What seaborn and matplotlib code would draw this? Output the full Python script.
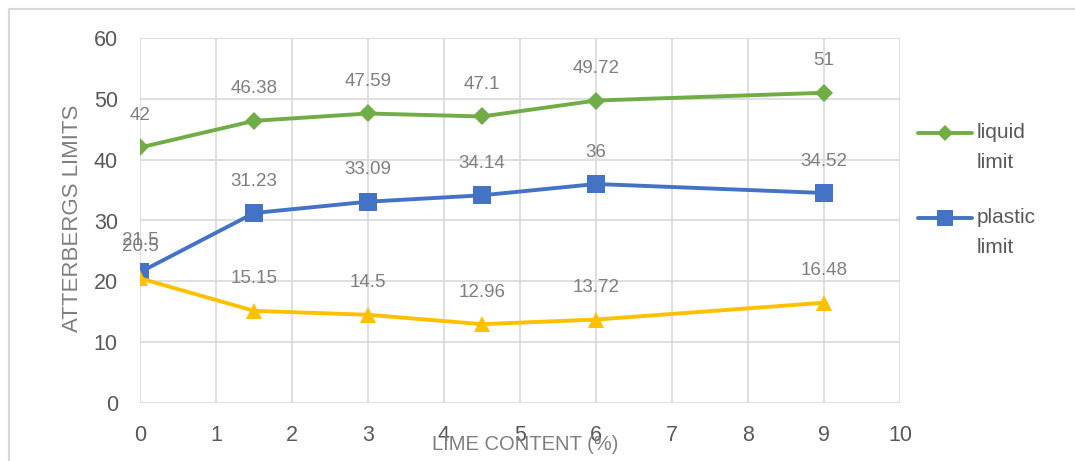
import matplotlib
matplotlib.use("Agg")
import matplotlib.pyplot as plt
from matplotlib.lines import Line2D
from matplotlib.patches import Rectangle
import seaborn as sns
import pandas as pd

# Lime content (%) and Atterberg limits
lime_content = [0, 1.5, 3, 4.5, 6, 9]
liquid_limit = [42, 46.38, 47.59, 47.1, 49.72, 51]
plastic_limit = [21.5, 31.23, 33.09, 34.14, 36, 34.52]
plasticity_index = [20.5, 15.15, 14.5, 12.96, 13.72, 16.48]

x_ticks = list(range(0, 11))
y_ticks = list(range(0, 61, 10))
legend_labels = ["liquid\nlimit", "plastic\nlimit"]

sns.set_theme(style="white")
plt.rcParams["font.family"] = ["Liberation Sans", "DejaVu Sans"]

GREEN = "#70AD47"
BLUE = "#4472C4"
YELLOW = "#FFC000"
TICK_GRAY = "#595959"
LABEL_GRAY = "#7F7F7F"
GRID = "#D9D9D9"

W, H = 1075, 461
fig = plt.figure(figsize=(W / 100, H / 100), dpi=100)
ax = fig.add_axes([140 / W, 1 - 403 / H, (900 - 140) / W, (403 - 38) / H])

series = [
    ("liquid limit", liquid_limit, GREEN, "D", 9.5),
    ("plastic limit", plastic_limit, BLUE, "s", 12.5),
    ("plasticity index", plasticity_index, YELLOW, "^", 11.5),
]

for name, values, color, marker, msize in series:
    df = pd.DataFrame({"x": lime_content, "y": values})
    sns.lineplot(data=df, x="x", y="y", ax=ax, color=color, linewidth=2.8,
                 marker=marker, markersize=msize, markeredgewidth=0,
                 markerfacecolor=color, zorder=3)
    for xv, yv in zip(lime_content, values):
        ax.annotate(f"{yv:g}", (xv, yv), xytext=(0, 23), textcoords="offset points",
                    ha="center", va="center", fontsize=13.5, color=LABEL_GRAY,
                    zorder=4)

ax.set_xlim(0, 10)
ax.set_ylim(0, 60)
ax.set_xticks(x_ticks)
ax.set_yticks(y_ticks)
ax.grid(True, color=GRID, linewidth=1.2)
for sp in ax.spines.values():
    sp.set_visible(False)
ax.tick_params(axis="both", length=0, labelsize=15.5, labelcolor=TICK_GRAY)
ax.tick_params(axis="x", pad=16)
ax.tick_params(axis="y", pad=16)
ax.set_xlabel("")
ax.set_ylabel("")

fig.text(73 / W, 1 - 218 / H, "ATTERBERGS LIMITS", rotation=90, ha="center",
         va="center", fontsize=16, color=LABEL_GRAY)
fig.text(525 / W, 1 - 444 / H, "LIME CONTENT (%)", ha="center", va="center",
         fontsize=14.5, color=LABEL_GRAY)

# legend: handle level with the first line of each two-line label
legend_rows = [(133, GREEN, "D", 8), (218, BLUE, "s", 12)]
for (y_px, color, marker, msize), label in zip(legend_rows, legend_labels):
    yf = 1 - y_px / H
    fig.add_artist(Line2D([918 / W, 945 / W, 972 / W], [yf, yf, yf],
                          transform=fig.transFigure, color=color, linewidth=2.8,
                          marker=marker, markersize=msize, markeredgewidth=0,
                          markevery=[1]))
    fig.text(977 / W, 1 - (y_px - 10) / H, label, ha="left", va="top",
             fontsize=15, color=TICK_GRAY, linespacing=1.75)

# chart border
fig.patches.append(Rectangle((9 / W, -0.1), 1.2, 1 - 9 / H + 0.1,
                             transform=fig.transFigure, fill=False,
                             edgecolor=GRID, linewidth=1.5))

fig.savefig("out.png", dpi=100, facecolor="white")
